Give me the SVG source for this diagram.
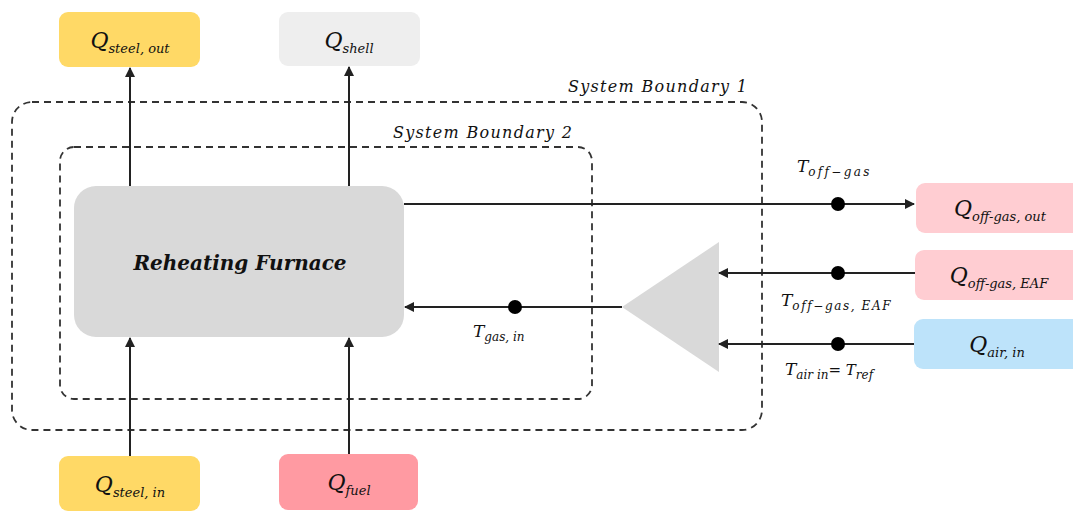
<svg xmlns="http://www.w3.org/2000/svg" width="1073" height="512" viewBox="0 0 1073 512">
<defs>
<marker id="ah" markerWidth="10" markerHeight="10" refX="9" refY="5" orient="auto" markerUnits="userSpaceOnUse">
<path d="M0,0 L10,5 L0,10 z" fill="#222"/>
</marker>
<style>
.box{stroke:none}
.q{font-family:"DejaVu Serif","Liberation Serif",serif;font-style:italic;fill:#111}
.big{font-size:22px}
.sub{font-size:13px}
.lbl{font-family:"DejaVu Serif","Liberation Serif",serif;font-style:italic;fill:#111;font-size:16px;letter-spacing:1.3px}
.ln{stroke:#222;stroke-width:2;fill:none}
.bd{stroke:#333;stroke-width:1.8;fill:none;stroke-dasharray:7,5}
</style>
</defs>
<rect width="1073" height="512" fill="#fff"/>

<g id="boundary1">
<rect class="bd" x="12" y="102" width="750" height="328" rx="20"/>
<text class="lbl" x="568" y="92">System Boundary 1</text>
</g>
<g id="boundary2">
<rect class="bd" x="60" y="147" width="532" height="252" rx="14"/>
<text class="lbl" x="393" y="138">System Boundary 2</text>
</g>

<g id="furnace">
<rect x="74" y="186" width="330" height="151" rx="22" fill="#D9D9D9"/>
<text x="240" y="270" text-anchor="middle" font-family="'DejaVu Serif','Liberation Serif',serif" font-style="italic" font-weight="bold" font-size="20" fill="#111">Reheating Furnace</text>
</g>

<g id="steel_out">
<rect x="59" y="12" width="141" height="55" rx="9" fill="#FFD966"/>
<text class="q" x="130" y="48" text-anchor="middle"><tspan class="big">Q</tspan><tspan class="sub" dy="5">steel, out</tspan></text>
</g>
<g id="shell">
<rect x="279" y="12" width="141" height="54" rx="9" fill="#EEEEEE"/>
<text class="q" x="349" y="48" text-anchor="middle"><tspan class="big">Q</tspan><tspan class="sub" dy="5">shell</tspan></text>
</g>
<g id="steel_in">
<rect x="59" y="456" width="141" height="55" rx="9" fill="#FFD966"/>
<text class="q" x="130" y="492" text-anchor="middle"><tspan class="big">Q</tspan><tspan class="sub" dy="5">steel, in</tspan></text>
</g>
<g id="fuel">
<rect x="279" y="454" width="139" height="56" rx="9" fill="#FF9AA2"/>
<text class="q" x="349" y="490" text-anchor="middle"><tspan class="big">Q</tspan><tspan class="sub" dy="5">fuel</tspan></text>
</g>
<g id="offgas_out">
<rect x="916" y="183" width="170" height="50" rx="9" fill="#FFCDD2"/>
<text class="q" x="1000" y="216" text-anchor="middle"><tspan class="big">Q</tspan><tspan class="sub" dy="5">off-gas, out</tspan></text>
</g>
<g id="offgas_eaf">
<rect x="915" y="250" width="170" height="50" rx="9" fill="#FFCDD2"/>
<text class="q" x="999" y="283" text-anchor="middle"><tspan class="big">Q</tspan><tspan class="sub" dy="5">off-gas, EAF</tspan></text>
</g>
<g id="air_in">
<rect x="914" y="319" width="170" height="50" rx="9" fill="#BDE3FA"/>
<text class="q" x="997" y="352" text-anchor="middle"><tspan class="big">Q</tspan><tspan class="sub" dy="5">air, in</tspan></text>
</g>
<g id="mixer">
<polygon points="622,307 719,242 719,372" fill="#D9D9D9"/>
</g>

<g id="connectors">
<line class="ln" x1="130" y1="186" x2="130" y2="68" marker-end="url(#ah)"/>
<line class="ln" x1="349" y1="186" x2="349" y2="67" marker-end="url(#ah)"/>
<line class="ln" x1="130" y1="456" x2="130" y2="338" marker-end="url(#ah)"/>
<line class="ln" x1="349" y1="454" x2="349" y2="338" marker-end="url(#ah)"/>
<line class="ln" x1="404" y1="204" x2="914" y2="204" marker-end="url(#ah)"/>
<line class="ln" x1="915" y1="273" x2="719" y2="273" marker-end="url(#ah)"/>
<line class="ln" x1="914" y1="344" x2="719" y2="344" marker-end="url(#ah)"/>
<line class="ln" x1="622" y1="307" x2="405" y2="307" marker-end="url(#ah)"/>
<circle cx="838" cy="204" r="7" fill="#000"/>
<circle cx="838" cy="273" r="7" fill="#000"/>
<circle cx="838" cy="344" r="7" fill="#000"/>
<circle cx="515" cy="307" r="7" fill="#000"/>
<text class="q" x="797" y="172"><tspan font-size="17">T</tspan><tspan font-size="12" dy="4" letter-spacing="2.3">off−gas</tspan></text>
<text class="q" x="781" y="306"><tspan font-size="17">T</tspan><tspan font-size="12" dy="4" letter-spacing="1.6">off−gas, EAF</tspan></text>
<text class="q" x="785" y="375"><tspan font-size="17">T</tspan><tspan font-size="12" dy="4">air in</tspan><tspan font-size="15" dy="-4">= T</tspan><tspan font-size="12" dy="4">ref</tspan></text>
<text class="q" x="473" y="337"><tspan font-size="17">T</tspan><tspan font-size="12" dy="4">gas, in</tspan></text>
</g>
</svg>
